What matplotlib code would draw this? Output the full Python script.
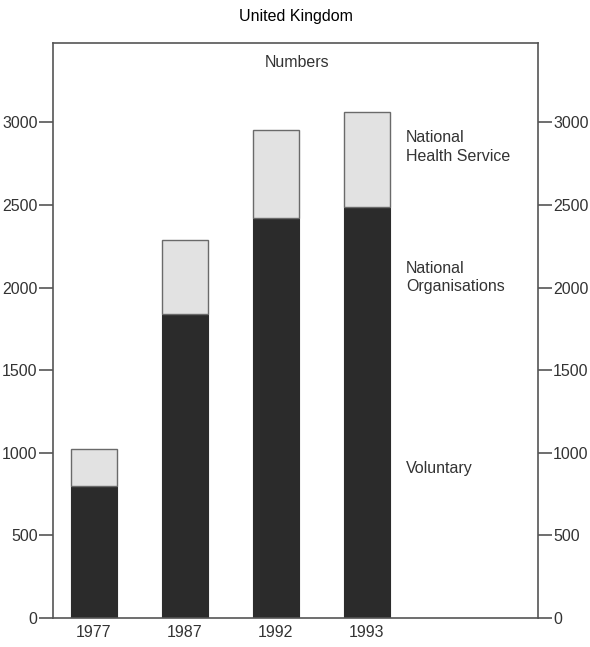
import numpy as np
import matplotlib.pyplot as plt

plt.rcParams['font.family'] = ['Liberation Sans', 'DejaVu Sans']

# Data
years = ['1977', '1987', '1992', '1993']
dark_part = [800, 1840, 2420, 2485]      # Voluntary / National Organisations
light_part = [225, 450, 535, 580]        # National Health Service (on top)

dark_col = '#2b2b2b'
light_col = '#e2e2e2'
axis_col = '#555555'
text_col = '#333333'
fs = 11.5

fig = plt.figure(figsize=(5.9, 6.47), dpi=100)
ax = fig.add_axes([0.0898, 0.0448, 0.8220, 0.8887])

x = np.arange(len(years))
ax.bar(x, dark_part, width=0.5, color=dark_col, edgecolor=dark_col, linewidth=0.8)
ax.bar(x, light_part, bottom=dark_part, width=0.5, color=light_col,
       edgecolor='#6a6a6a', linewidth=1.0)

ax.set_xlim(-0.45, 4.88)
ax.set_ylim(0, 3480)
ax.set_xticks(x)
ax.set_xticklabels(years)
ax.set_yticks([0, 500, 1000, 1500, 2000, 2500, 3000])

for s in ax.spines.values():
    s.set_color(axis_col)
    s.set_linewidth(1.2)

ax.tick_params(axis='y', direction='out', length=10, width=1.2, color=axis_col,
               labelsize=fs, labelcolor=text_col, left=True, right=True,
               labelleft=True, labelright=True, pad=1)
ax.tick_params(axis='x', length=0, labelsize=fs, labelcolor=text_col, pad=5)

ax.text(0.5, 1.047, 'United Kingdom', transform=ax.transAxes, ha='center',
        va='center', fontsize=fs, color='black')
ax.text(2.23, 3360, 'Numbers', ha='center', va='center', fontsize=fs, color=text_col)

ax.text(3.43, 2850, 'National\nHealth Service', ha='left', va='center',
        fontsize=fs, color=text_col, linespacing=1.3)
ax.text(3.43, 2060, 'National\nOrganisations', ha='left', va='center',
        fontsize=fs, color=text_col, linespacing=1.3)
ax.text(3.43, 905, 'Voluntary', ha='left', va='center', fontsize=fs, color=text_col)

fig.savefig('out.png', dpi=100)
